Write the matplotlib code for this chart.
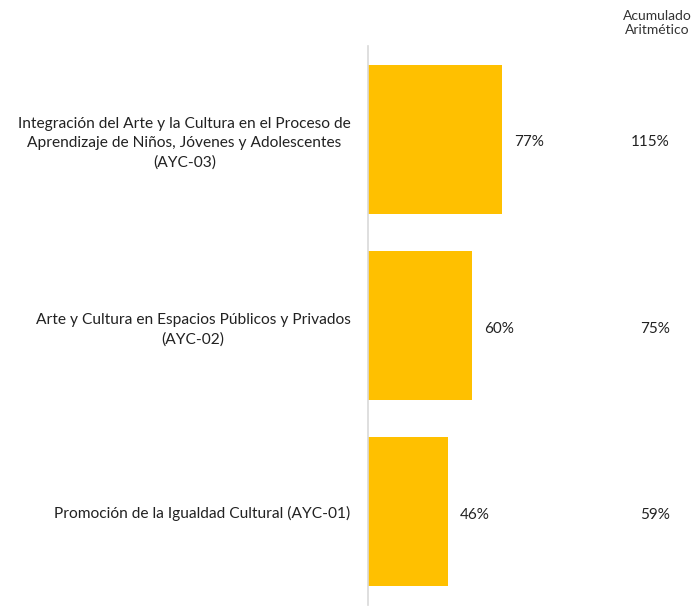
import matplotlib
matplotlib.use("Agg")
import matplotlib.pyplot as plt

plt.rcParams['font.family'] = ['Lato', 'DejaVu Sans']

# data
programs = [
    "Promoción de la Igualdad Cultural (AYC-01)",
    "Arte y Cultura en Espacios Públicos y Privados\n(AYC-02)",
    "Integración del Arte y la Cultura en el Proceso de\nAprendizaje de Niños, Jóvenes y Adolescentes\n(AYC-03)",
]
avance = [46, 60, 77]
acumulado = [59, 75, 115]

fig = plt.figure(figsize=(6.91, 6.11), dpi=100)
# axes placed to line up with the reference: left spine at x~368px
ax = fig.add_axes([368 / 691, 6 / 611, (691 - 368) / 691, (605 - 46) / 611])

pos = range(len(programs))
ax.barh(pos, avance, height=0.8, color="#FFC000")
ax.set_ylim(-0.5, 2.5)
ax.set_xlim(0, (691 - 368) / 1.74)

ax.set_yticks(list(pos))
ax.set_yticklabels(programs, fontsize=11.2, color="#222222", ha="right",
                   multialignment="center", linespacing=1.45)
ax.tick_params(axis="y", length=0, pad=12.5)
ax.set_xticks([])

for s in ["top", "right", "bottom"]:
    ax.spines[s].set_visible(False)
ax.spines["left"].set_color("#d9d9d9")
ax.spines["left"].set_linewidth(1.2)

for i, (v, a) in enumerate(zip(avance, acumulado)):
    ax.text(v + 7, i - 0.017, f"{v}%", va="center", ha="left", fontsize=11, color="#222222")
    ax.text(173.5, i - 0.017, f"{a}%", va="center", ha="right", fontsize=11, color="#222222")

fig.text(657 / 691, 1 - 23 / 611, "Acumulado\nAritmético", ha="center", va="center",
         fontsize=10, color="#333333", linespacing=1.1)

fig.savefig("out.png", dpi=100)
